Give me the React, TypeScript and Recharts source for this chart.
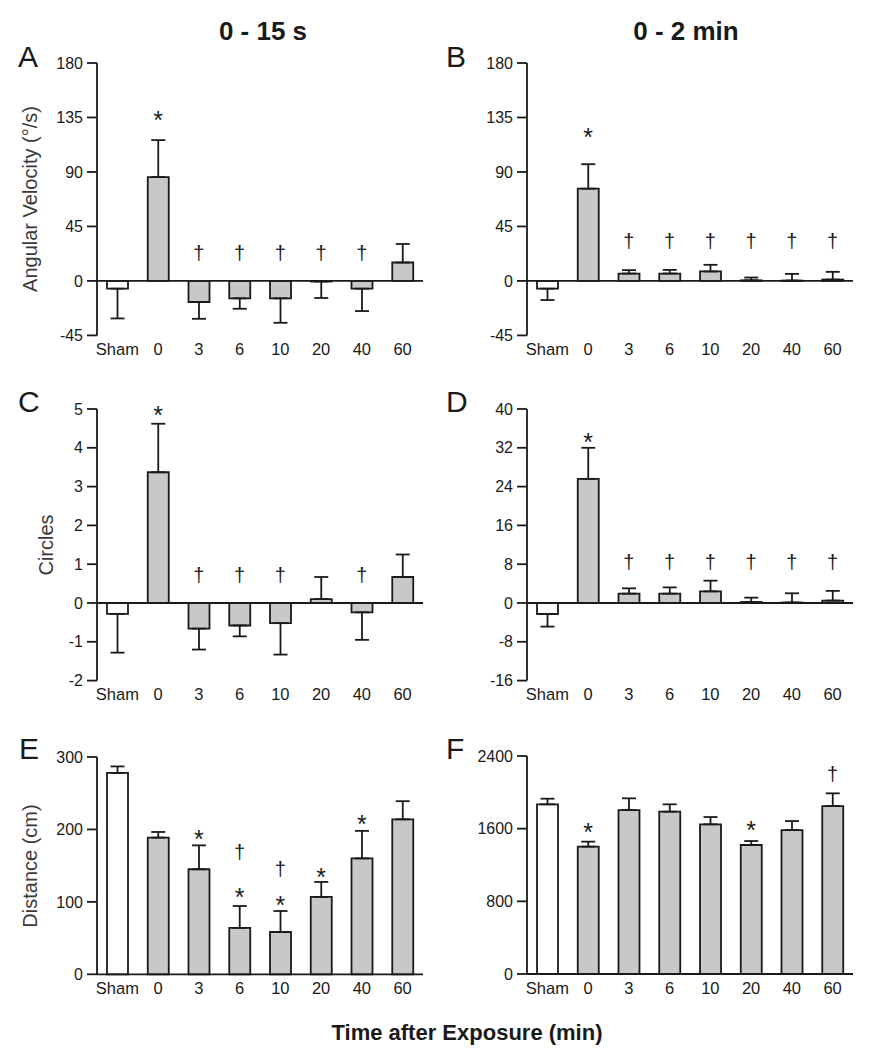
import React from 'react';
import { ComposedChart, Bar, Cell, ErrorBar, XAxis, YAxis, Line, ReferenceLine } from 'recharts';

const FONT = '"Liberation Sans", Arial, Helvetica, sans-serif';
const INK = '#1a1a1a';
const BAR_GRAY = '#c8c8c8';

const categories = ['Sham', '0', '3', '6', '10', '20', '40', '60'];

// A - angular velocity, 0-15 s
const velocity15Mean = [-6.4, 85.8, -17.4, -14.4, -14.4, -0.5, -6.4, 15.2];
const velocity15Sem = [24.6, 30.5, 13.9, 8.6, 20.2, 13.6, 18.5, 15.3];
const velocity15Star = [null, 137, null, null, null, null, null, null];
const velocity15Dagger = [null, null, 22, 22, 22, 22, 22, null];

// B - angular velocity, 0-2 min
const velocity2Mean = [-6.4, 76.2, 6.1, 6.1, 7.8, 0.5, 0.3, 1.1];
const velocity2Sem = [9.4, 20.2, 2.8, 3.0, 5.5, 2.3, 5.5, 6.4];
const velocity2Star = [null, 123, null, null, null, null, null, null];
const velocity2Dagger = [null, null, 32, 32, 32, 32, 32, 32];

// C - circles, 0-15 s
const circles15Mean = [-0.28, 3.37, -0.66, -0.58, -0.52, 0.1, -0.24, 0.67];
const circles15Sem = [1.0, 1.25, 0.54, 0.28, 0.81, 0.57, 0.71, 0.58];
const circles15Star = [null, 4.98, null, null, null, null, null, null];
const circles15Dagger = [null, null, 0.69, 0.69, 0.69, null, 0.69, null];

// D - circles, 0-2 min
const circles2Mean = [-2.27, 25.6, 1.92, 1.92, 2.4, 0.2, 0.1, 0.5];
const circles2Sem = [2.6, 6.4, 1.1, 1.3, 2.2, 0.9, 1.9, 2.0];
const circles2Star = [null, 34.3, null, null, null, null, null, null];
const circles2Dagger = [null, null, 8.2, 8.2, 8.2, 8.2, 8.2, 8.2];

// E - distance, 0-15 s
const distance15Mean = [278, 188.7, 145, 64, 58.4, 106.8, 160, 214];
const distance15Sem = [9, 7.8, 33, 30.3, 29, 20.7, 38, 25];
const distance15Star = [null, null, 194, 113.7, 103, 141, 215, null];
const distance15Dagger = [null, null, null, 166.7, 143.6, null, null, null];

// F - distance, 0-2 min
const distance2Mean = [1868, 1402, 1805, 1787, 1648, 1420, 1585, 1849];
const distance2Sem = [62, 55, 129, 81, 80, 44, 99, 140];
const distance2Star = [null, 1622, null, null, null, 1640, null, null];
const distance2Dagger = [null, null, null, null, null, null, null, 2191];

const markDot = (symbol: string) => (props: any) => {
  const { cx, cy, value, index } = props;
  if (value == null || cy == null || isNaN(cy)) return <g key={`${symbol}-${index}`} />;
  const isStar = symbol === '*';
  return (
    <text
      key={`${symbol}-${index}`}
      x={cx}
      y={cy}
      dy={isStar ? '0.57em' : '0.29em'}
      textAnchor="middle"
      fontSize={isStar ? 25 : 20}
      fill={INK}
    >
      {symbol}
    </text>
  );
};

interface PanelProps {
  left: number;
  plotTop: number;
  plotBottom: number;
  mean: number[];
  sem: number[];
  star: (number | null)[];
  dagger: (number | null)[];
  domain: [number, number];
  ticks: number[];
}

function Panel({ left, plotTop, plotBottom, mean, sem, star, dagger, domain, ticks }: PanelProps) {
  const data = categories.map((cat, i) => ({
    cat,
    mean: mean[i],
    err: mean[i] < 0 ? [sem[i], 0] : [0, sem[i]],
    star: star[i],
    dagger: dagger[i],
  }));
  const height = plotBottom - plotTop + 20 + 30 + 4;
  return (
    <div style={{ position: 'absolute', left, top: plotTop - 20 }}>
      <ComposedChart width={440} height={height} data={data} margin={{ top: 20, right: 17, bottom: 4, left: 0 }}>
        <XAxis
          dataKey="cat"
          axisLine={false}
          tickLine={false}
          interval={0}
          height={30}
          tick={{ fontSize: 16.5, fill: INK }}
        />
        <YAxis
          type="number"
          domain={domain}
          ticks={ticks}
          width={97}
          tickSize={10}
          tickMargin={4}
          axisLine={{ stroke: INK, strokeWidth: 1.8 }}
          tickLine={{ stroke: INK, strokeWidth: 1.8 }}
          tick={{ fontSize: 16, fill: INK }}
        />
        <ReferenceLine y={0} stroke={INK} strokeWidth={1.8} />
        <Bar dataKey="mean" barSize={21} stroke={INK} strokeWidth={1.8} isAnimationActive={false}>
          {data.map((d, i) => (
            <Cell key={d.cat} fill={i === 0 ? '#ffffff' : BAR_GRAY} />
          ))}
          <ErrorBar dataKey="err" width={7} stroke={INK} strokeWidth={1.8} direction="y" />
        </Bar>
        <Line dataKey="star" stroke="none" dot={markDot('*')} activeDot={false} isAnimationActive={false} legendType="none" />
        <Line dataKey="dagger" stroke="none" dot={markDot('†')} activeDot={false} isAnimationActive={false} legendType="none" />
      </ComposedChart>
    </div>
  );
}

export default function App() {
  return (
    <div style={{ position: 'absolute', left: 0, top: 0, width: 873, height: 1050, background: '#fff', fontFamily: FONT }}>
      <Panel left={0} plotTop={63.3} plotBottom={335.7} mean={velocity15Mean} sem={velocity15Sem}
        star={velocity15Star} dagger={velocity15Dagger} domain={[-45, 180]} ticks={[-45, 0, 45, 90, 135, 180]} />
      <Panel left={430} plotTop={63.3} plotBottom={335.7} mean={velocity2Mean} sem={velocity2Sem}
        star={velocity2Star} dagger={velocity2Dagger} domain={[-45, 180]} ticks={[-45, 0, 45, 90, 135, 180]} />
      <Panel left={0} plotTop={409.3} plotBottom={680.9} mean={circles15Mean} sem={circles15Sem}
        star={circles15Star} dagger={circles15Dagger} domain={[-2, 5]} ticks={[-2, -1, 0, 1, 2, 3, 4, 5]} />
      <Panel left={430} plotTop={409.3} plotBottom={680.9} mean={circles2Mean} sem={circles2Sem}
        star={circles2Star} dagger={circles2Dagger} domain={[-16, 40]} ticks={[-16, -8, 0, 8, 16, 24, 32, 40]} />
      <Panel left={0} plotTop={756.7} plotBottom={974} mean={distance15Mean} sem={distance15Sem}
        star={distance15Star} dagger={distance15Dagger} domain={[0, 300]} ticks={[0, 100, 200, 300]} />
      <Panel left={430} plotTop={756} plotBottom={974} mean={distance2Mean} sem={distance2Sem}
        star={distance2Star} dagger={distance2Dagger} domain={[0, 2400]} ticks={[0, 800, 1600, 2400]} />

      <svg width={873} height={1050} style={{ position: 'absolute', left: 0, top: 0, pointerEvents: 'none' }}>
        <g fill={INK} fontFamily={FONT}>
          <text x={263} y={40} textAnchor="middle" fontSize={26} fontWeight="bold">0 - 15 s</text>
          <text x={686} y={40} textAnchor="middle" fontSize={26} fontWeight="bold">0 - 2 min</text>

          <text x={18} y={67} fontSize={30}>A</text>
          <text x={446} y={67} fontSize={30}>B</text>
          <text x={18} y={412} fontSize={30}>C</text>
          <text x={446} y={412} fontSize={30}>D</text>
          <text x={19} y={759} fontSize={30}>E</text>
          <text x={446} y={759} fontSize={30}>F</text>

          <g fill="#3a3a3a" fontSize={20}>
            <text x={37} y={199} textAnchor="middle" transform="rotate(-90 37 199)">Angular Velocity (°/s)</text>
            <text x={53} y={545} textAnchor="middle" transform="rotate(-90 53 545)">Circles</text>
            <text x={37} y={866} textAnchor="middle" transform="rotate(-90 37 866)">Distance (cm)</text>
          </g>

          <text x={467} y={1040} textAnchor="middle" fontSize={22} fontWeight="bold">Time after Exposure (min)</text>
        </g>
      </svg>
    </div>
  );
}
